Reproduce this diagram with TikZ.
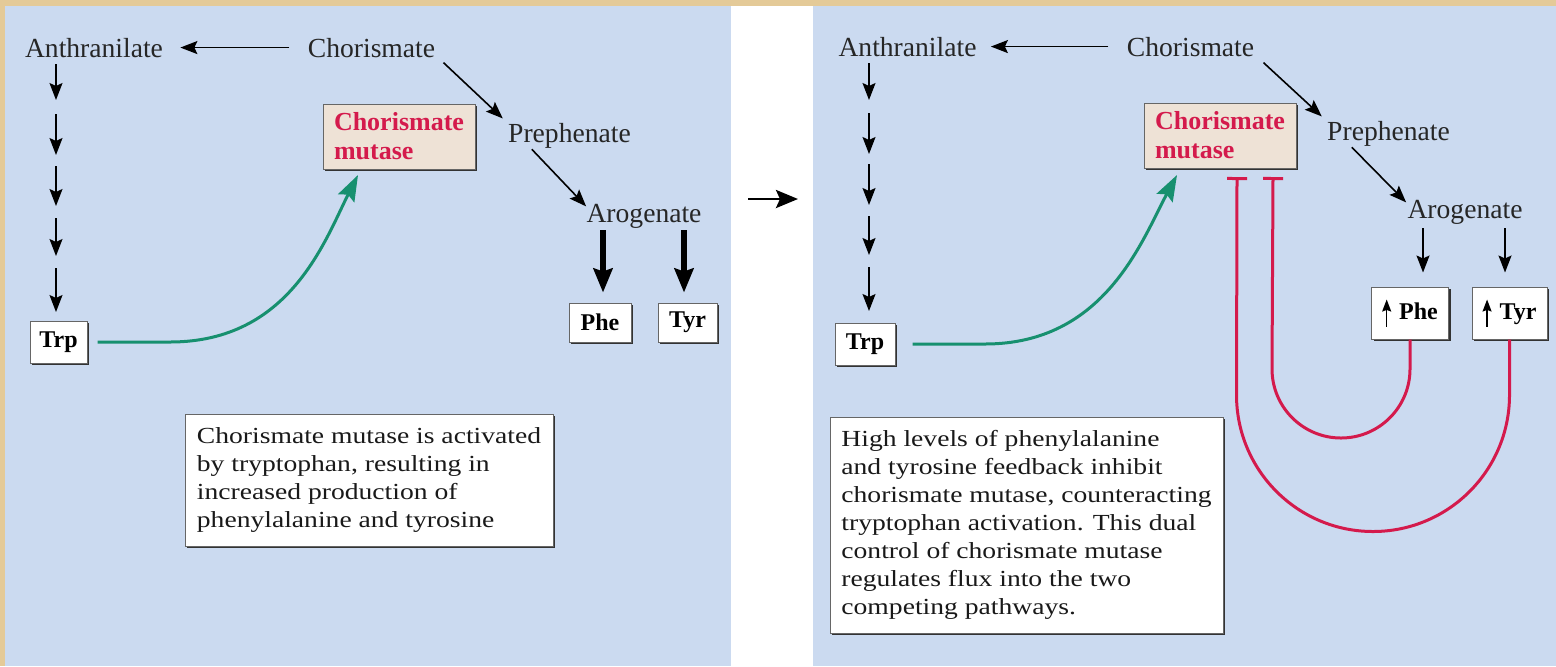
\documentclass[tikz,border=0pt]{standalone}
\usepackage{fontspec}
\setmainfont{Liberation Serif}
\newfontfamily\boxfont[FakeStretch=1.2]{Liberation Serif}
\usetikzlibrary{arrows.meta,shadows}
\definecolor{tanbg}{HTML}{E4CA98}
\definecolor{panel}{HTML}{CBDAF0}
\definecolor{crim}{HTML}{D41A4C}
\definecolor{grn}{HTML}{17906F}
\definecolor{beige}{HTML}{EEE2D6}
\newcommand\uparr{\tikz[baseline=0pt]\draw[line width=0.7pt,-{Stealth[length=6pt,width=4.5pt,inset=0.8pt]}] (0pt,-3.5pt) -- (0pt,10pt);\hspace{4pt}}
\begin{document}
\begin{tikzpicture}[x=0.5pt,y=-0.5pt,
  lbl/.style={font=\fontsize{13.8pt}{16pt}\selectfont, inner sep=0pt, anchor=base, text=black!85},
  thinarr/.style={line width=0.8pt, -{Stealth[length=8.5pt,width=6.5pt,inset=1.5pt]}},
  thickarr/.style={line width=2.6pt, -{Stealth[length=12pt,width=9.5pt,inset=1.5pt]}},
  midarr/.style={line width=1.4pt, -{Stealth[length=11pt,width=9pt,inset=2pt]}},
  shbox/.style={draw=black!60, line width=0.5pt, fill=white,
     drop shadow={shadow xshift=1.2pt, shadow yshift=-1.2pt, opacity=1, fill=black!80}},
  amino/.style={shbox, font=\bfseries\fontsize{12pt}{14pt}\selectfont, inner sep=0pt},
  enz/.style={shbox, fill=beige, text=crim, font=\bfseries\fontsize{13pt}{14.5pt}\selectfont,
     align=left, minimum width=76pt, minimum height=32.5pt, inner sep=0pt},
  note/.style={shbox, font=\boxfont\fontsize{11.5pt}{14pt}\selectfont, align=left, inner sep=0pt, text=black!90},
  inhib/.style={draw=crim, line width=1.5pt, -{Bar[width=10pt]}},
  act/.style={draw=grn, line width=1.5pt, -{Stealth[length=13pt,width=9pt,inset=2pt]}}
]
\useasboundingbox (0,0) rectangle (1556,666);
% background
\fill[tanbg] (0,0) rectangle (1556,666);
\fill[panel] (5,6) rectangle (731,666);
\fill[white] (731,6) rectangle (813,666);
\fill[panel] (813,6) rectangle (1556,666);

% ================= LEFT PANEL =================
\node[lbl] (anthL) at (94,57) {Anthranilate};
\node[lbl] (chorL) at (371.5,57) {Chorismate};
\node[lbl] (preL) at (569.5,142) {Prephenate};
\node[lbl] (aroL) at (644,222) {Arogenate};
\node[enz] (mutL) at (399,136.5) {Chorismate\\mutase};
\node[amino, minimum width=28.5pt, minimum height=21pt] (trpL) at (58.5,342) {Trp};
\node[amino, minimum width=31pt, minimum height=19.5pt] (pheL) at (600,322.5) {Phe};
\node[amino, minimum width=29.5pt, minimum height=19.5pt] (tyrL) at (687.5,322.5) {Tyr};
\node[note, minimum width=184pt, minimum height=66pt] (noteL) at (369,480)
  {Chorismate mutase is activated\\by tryptophan, resulting in\\increased production of\\phenylalanine and tyrosine};

\draw[thinarr, shorten <=9pt, shorten >=8.5pt] (chorL.west) -- (anthL.east);
\draw[thinarr] ([shift={(8,5)}]chorL.south east) -- ([shift={(-5,-4)}]preL.north west);
\draw[thinarr] ([shift={(24,1)}]preL.south west) -- ([shift={(0,3)}]aroL.north west);
\foreach \i/\ya/\yb in {1/64/100,2/114/155,3/166/206,4/218/256,5/268/312}{
  \coordinate (la\i) at (56,\ya);
  \coordinate (lb\i) at (56,\yb);
  \draw[thinarr] (la\i) -- (lb\i);
}
\coordinate (tpL) at (603,230);
\coordinate (ttL) at (684,230);
\draw[thickarr, shorten >=5pt] (tpL) -- (tpL |- pheL.north);
\draw[thickarr, shorten >=5pt] (ttL) -- (ttL |- tyrL.north);
\coordinate (gL) at (358,175);
\draw[act] ([xshift=5pt]trpL.east) -- (170,342) .. controls (290,342) and (325,240) .. (gL);

% middle arrow
\coordinate (m1) at (748,199);
\coordinate (m2) at (798,199);
\draw[midarr] (m1) -- (m2);

% ================= RIGHT PANEL =================
\node[lbl] (anthR) at (907.5,56) {Anthranilate};
\node[lbl] (chorR) at (1190.5,56) {Chorismate};
\node[lbl] (preR) at (1388.5,140) {Prephenate};
\node[lbl] (aroR) at (1465,218) {Arogenate};
\node[enz] (mutR) at (1220,135.5) {Chorismate\\mutase};
\node[amino, minimum width=30pt, minimum height=21pt] (trpR) at (865,344) {Trp};
\node[amino, minimum width=38.5pt, minimum height=26pt] (pheR) at (1410,313) {\uparr Phe};
\node[amino, minimum width=37.5pt, minimum height=26pt] (tyrR) at (1509.5,313) {\uparr Tyr};
\node[note, minimum width=196.5pt, minimum height=108pt] (noteR) at (1026.5,525)
  {High levels of phenylalanine\\and tyrosine feedback inhibit\\chorismate mutase, counteracting\\tryptophan activation. This dual\\control of chorismate mutase\\regulates flux into the two\\competing pathways.};

\draw[thinarr, shorten <=9pt, shorten >=7pt] (chorR.west) -- (anthR.east);
\draw[thinarr] ([shift={(9,6)}]chorR.south east) -- ([shift={(-5,-4)}]preR.north west);
\draw[thinarr] ([shift={(25,1)}]preR.south west) -- ([shift={(-1,3)}]aroR.north west);
\foreach \i/\ya/\yb in {1/63/100,2/113/154,3/164/205,4/216/255,5/267/311}{
  \coordinate (ra\i) at (869,\ya);
  \coordinate (rb\i) at (869,\yb);
  \draw[thinarr] (ra\i) -- (rb\i);
}
\coordinate (tpR) at (1423,228);
\coordinate (ttR) at (1505,228);
\draw[thinarr, shorten >=7pt] (tpR) -- (tpR |- pheR.north);
\draw[thinarr, shorten >=7pt] (ttR) -- (ttR |- tyrR.north);
\coordinate (gR) at (1177,175);
\draw[act] ([xshift=8.5pt]trpR.east) -- (985,344) .. controls (1105,344) and (1142,240) .. (gR);

% feedback inhibition
\coordinate (inhA) at (1237,177);
\coordinate (inhB) at (1273,177);
\draw[inhib] (tyrR.south) -- (1509.5,395) arc[start angle=0, end angle=-180, radius=68.25pt] -- (inhA);
\draw[inhib] (pheR.south) -- (1410,369) arc[start angle=0, end angle=-180, radius=34.5pt] -- (inhB);
\end{tikzpicture}
\end{document}
